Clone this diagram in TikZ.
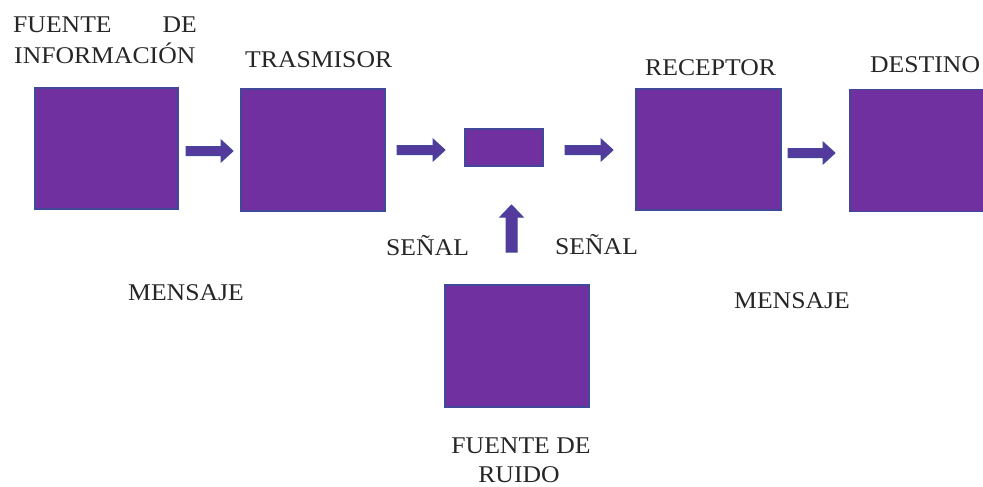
\documentclass[tikz,border=0pt]{standalone}
\usepackage{fontspec}
\setmainfont{Liberation Serif}[FakeStretch=1.07]
\definecolor{boxfill}{HTML}{7030A0}
\definecolor{boxline}{HTML}{41489A}
\definecolor{arrfill}{HTML}{553A9E}
\newcommand\harrow[3]{\filldraw[arr] (#1,#3-4.5) -- (#2-12,#3-4.5) -- (#2-12,#3-11) -- (#2,#3) -- (#2-12,#3+11) -- (#2-12,#3+4.5) -- (#1,#3+4.5) -- cycle;}
\begin{document}
\begin{tikzpicture}[x=1pt,y=-1pt,
  blk/.style={draw=boxline,fill=boxfill,line width=1.4pt,rectangle,inner sep=0pt},
  arr/.style={draw=boxline,fill=arrfill,line width=1pt,line join=miter},
  lbl/.style={inner sep=0pt,anchor=base west,font=\fontsize{24}{29}\selectfont,text=black!85}]
\useasboundingbox (0,0) rectangle (983,487);
% boxes
\node[blk,minimum width=143pt,minimum height=121pt] (fuente) at (106.5,148.5) {};
\node[blk,minimum width=144pt,minimum height=122pt] (tras) at (313,150) {};
\node[blk,minimum width=78pt,minimum height=37pt] (canal) at (504,147.5) {};
\node[blk,minimum width=145pt,minimum height=121pt] (rec) at (708.5,149.5) {};
\node[blk,minimum width=170pt,minimum height=122pt] (dest) at (935,150.5) {};
\node[blk,minimum width=144pt,minimum height=122pt] (ruido) at (517,346) {};
% block arrows
\harrow{186}{233}{151}
\harrow{397}{445}{150}
\harrow{565}{613}{150}
\harrow{788}{835}{153}
\filldraw[arr] (506,252) -- (506,217) -- (500,217) -- (511.5,205) -- (523,217) -- (517,217) -- (517,252) -- cycle;
% labels
\node[lbl] (t1) at (13,33) {FUENTE};
\node[lbl,anchor=base east] (t2) at (197,33) {DE};
\node[lbl] (t3) at (14,64) {INFORMACIÓN};
\node[lbl] (t4) at (245,68) {TRASMISOR};
\node[lbl] (t5) at (645,76) {RECEPTOR};
\node[lbl] (t6) at (870,73) {DESTINO};
\node[lbl] (t7) at (386,255) {SEÑAL};
\node[lbl] (t8) at (555,254) {SEÑAL};
\node[lbl] (t9) at (128,300) {MENSAJE};
\node[lbl] (t10) at (734,308) {MENSAJE};
\node[lbl,anchor=base] (t11) at (521,453) {FUENTE DE};
\node[lbl,anchor=base] (t12) at (519,482) {RUIDO};
\end{tikzpicture}
\end{document}
